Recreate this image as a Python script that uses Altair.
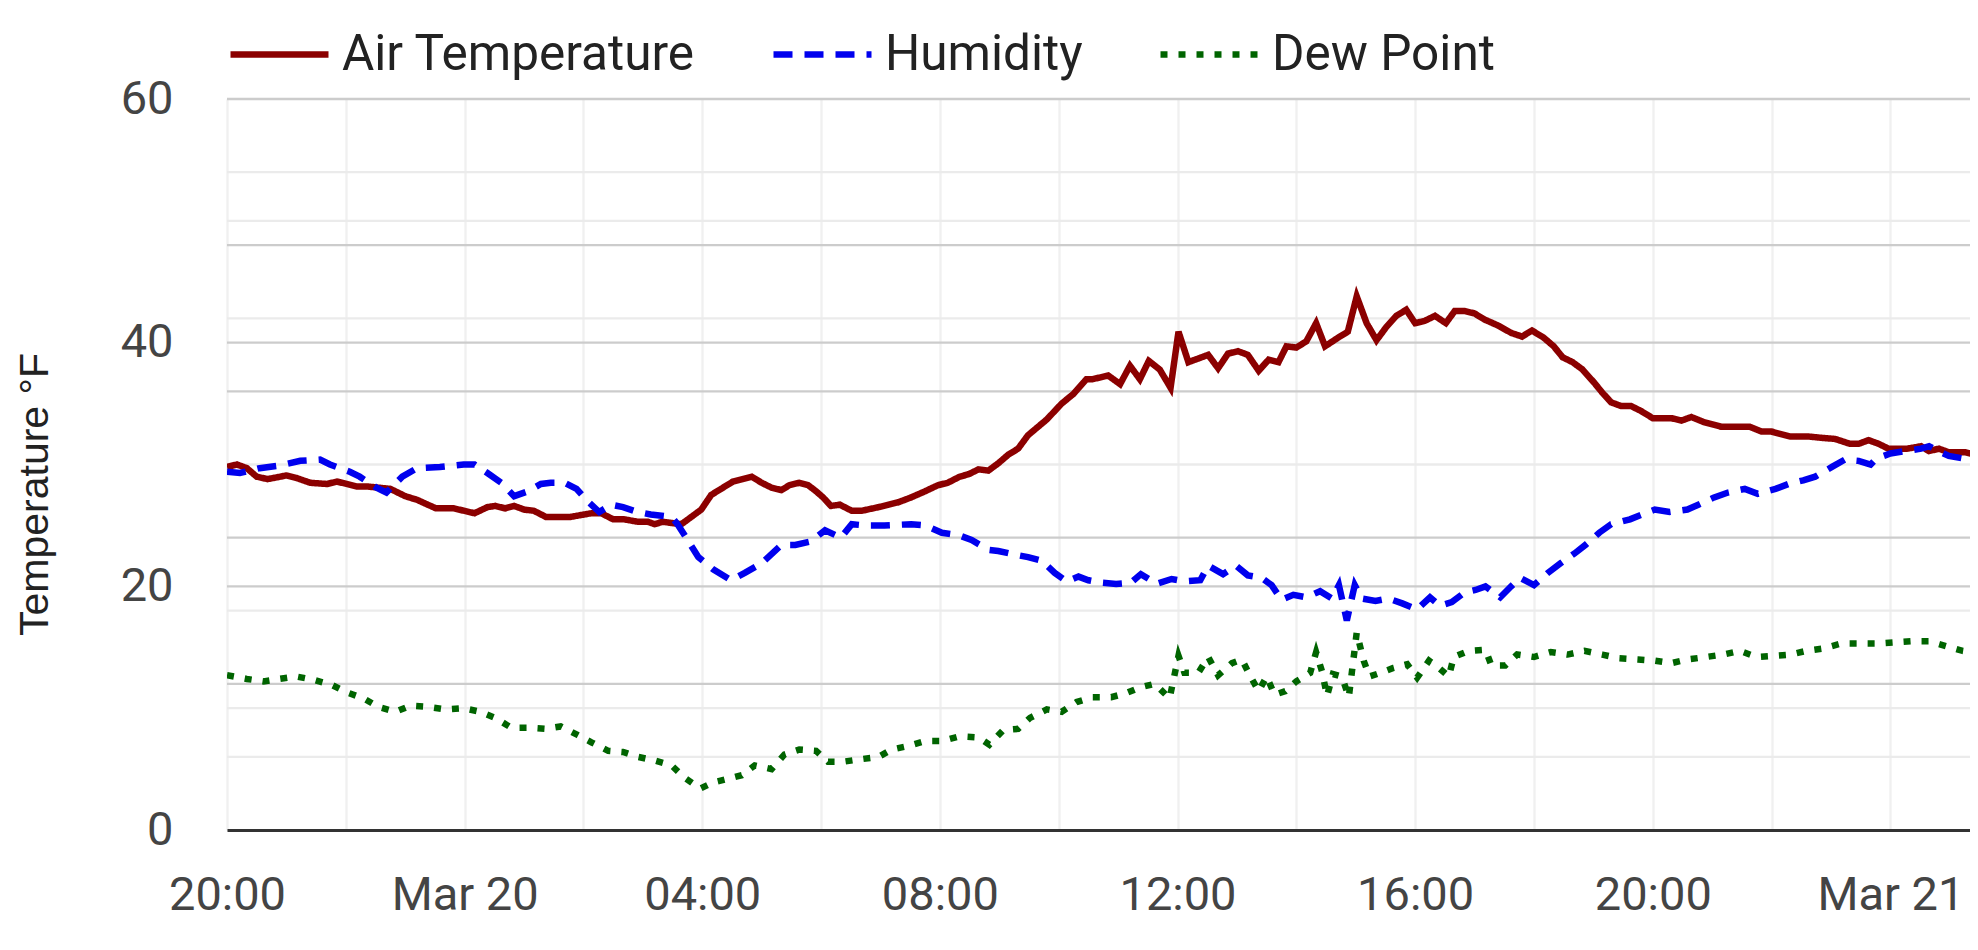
import altair as alt
import pandas as pd

# ---- data (hours after Mar 19 20:00, values in axis units) ----
series_names = ["Air Temperature", "Humidity", "Dew Point"]
series_colors = ["#8b0000", "#0000ee", "#006400"]
series_dashes = [[1, 0], [19, 12], [7, 11]]

temp_hours = [0, 0.16, 0.33, 0.5, 0.69, 1.0, 1.17, 1.4, 1.68, 1.85, 2.19, 2.35, 2.75, 3.0, 3.2, 3.51, 3.82,
              4.16, 4.38, 4.52, 4.69, 4.83, 5.0, 5.17, 5.37, 5.79, 6.13, 6.3, 6.5, 6.69, 6.92, 7.09, 7.2,
              7.34, 7.48, 7.65, 7.81, 7.98, 8.15, 8.32, 8.52, 8.83, 9.0, 9.17, 9.33, 9.47, 9.64, 9.78, 9.92,
              10.03, 10.17, 10.31, 10.51, 10.68, 10.96, 11.3, 11.52, 11.75, 11.97, 12.14, 12.34, 12.48,
              12.65, 12.81, 12.98, 13.15, 13.32, 13.49, 13.8, 14.05, 14.25, 14.47, 14.56, 14.83, 15.03,
              15.2, 15.37, 15.51, 15.7, 15.89, 16.01, 16.18, 16.52, 16.69, 16.85, 17.02, 17.19, 17.36,
              17.53, 17.7, 17.84, 18.0, 18.17, 18.34, 18.49, 18.7, 18.87, 19.01, 19.18, 19.35, 19.52,
              19.69, 19.85, 20.0, 20.17, 20.34, 20.51, 20.67, 20.84, 21.0, 21.17, 21.4, 21.62, 21.8,
              21.97, 22.17, 22.34, 22.48, 22.65, 22.82, 23.01, 23.15, 23.3, 23.46, 23.63, 23.8, 24.0,
              24.31, 24.48, 24.65, 24.85, 25.15, 25.63, 25.83, 26.0, 26.31, 26.62, 26.82, 27.07, 27.32,
              27.46, 27.63, 27.8, 27.97, 28.28, 28.51, 28.65, 28.82, 28.99, 29.27, 29.44, 29.57]
temp_values = [29.8, 30.0, 29.7, 29.0, 28.8, 29.1, 28.9, 28.5, 28.4, 28.6, 28.2, 28.2, 28.0, 27.4, 27.1, 26.4, 26.4,
               26.0, 26.5, 26.6, 26.4, 26.6, 26.3, 26.2, 25.7, 25.7, 26.0, 26.0, 25.5, 25.5, 25.3, 25.3, 25.1,
               25.3, 25.2, 25.1, 25.7, 26.3, 27.5, 28.0, 28.6, 29.0, 28.5, 28.1, 27.9, 28.3, 28.5, 28.3, 27.8,
               27.3, 26.6, 26.7, 26.2, 26.2, 26.5, 26.9, 27.3, 27.8, 28.3, 28.5, 29.0, 29.2,
               29.6, 29.5, 30.1, 30.8, 31.3, 32.4, 33.7, 35.0, 35.8, 37.0, 37.0, 37.3, 36.6,
               38.1, 37.0, 38.5, 37.8, 36.3, 40.9, 38.4, 39.0, 37.9, 39.1, 39.3, 39.0, 37.7,
               38.6, 38.4, 39.7, 39.6, 40.1, 41.6, 39.7, 40.4, 40.9, 43.8, 41.6, 40.2, 41.3,
               42.2, 42.7, 41.6, 41.8, 42.2, 41.6, 42.6, 42.6, 42.4, 41.9, 41.4, 40.8, 40.5,
               41.0, 40.4, 39.7, 38.8, 38.4, 37.8, 36.7, 35.9, 35.1, 34.8, 34.8, 34.4, 33.8,
               33.8, 33.6, 33.9, 33.5, 33.1, 33.1, 32.7, 32.7, 32.3, 32.3, 32.2, 32.1, 31.7,
               31.7, 32.0, 31.7, 31.3, 31.3, 31.5, 31.1, 31.3, 31.0, 31.0, 30.8, 30.8]

hum_hours = [0, 0.21, 0.55, 0.86, 1.23, 1.57, 1.73, 2.07, 2.24, 2.52, 2.69, 2.95, 3.2, 3.59, 3.99, 4.16, 4.38,
             4.61, 4.83, 5.06, 5.28, 5.45, 5.68, 5.88, 6.07, 6.27, 6.47, 6.66, 6.92, 7.14, 7.48, 7.59, 7.76,
             7.93, 8.18, 8.49, 8.71, 9.0, 9.33, 9.56, 9.84, 10.06, 10.34, 10.51, 10.74, 11.07, 11.52, 11.75,
             12.03, 12.31, 12.53, 12.81, 12.98, 13.26, 13.49, 13.71, 13.94, 14.13, 14.33, 14.5, 14.72, 14.97,
             15.22, 15.39, 15.65, 15.9, 16.12, 16.38, 16.52, 16.77, 16.99, 17.19, 17.42, 17.58, 17.75, 17.95,
             18.17, 18.4, 18.6, 18.71, 18.85, 18.99, 19.1, 19.33, 19.55, 19.78, 20.03, 20.25, 20.42, 20.62,
             20.84, 21.01, 21.18, 21.43, 21.62, 21.77, 22.0, 22.23, 22.45, 22.68, 22.87, 23.1, 23.3, 23.61,
             23.77, 24.03, 24.28, 24.59, 24.76, 25.04, 25.27, 25.55, 25.77, 26.06, 26.28, 26.54, 26.73,
             27.01, 27.24, 27.46, 27.66, 27.77, 28.0, 28.25, 28.51, 28.65, 28.76, 28.99, 29.21, 29.38,
             29.52, 29.57]
hum_values = [29.4, 29.3, 29.7, 29.9, 30.3, 30.4, 30.0, 29.4, 29.0, 28.1, 27.7, 29.0, 29.7, 29.8, 30.0, 30.0, 29.3,
              28.5, 27.4, 27.8, 28.4, 28.5, 28.5, 28.0, 27.0, 26.1, 26.7, 26.5, 26.1, 25.9, 25.7, 25.1, 23.7,
              22.4, 21.4, 20.5, 21.1, 21.9, 23.4, 23.4, 23.7, 24.6, 24.0, 25.1, 25.0, 25.0, 25.1, 25.0,
              24.4, 24.2, 23.8, 23.0, 22.9, 22.6, 22.4, 22.1, 21.1, 20.4, 20.8, 20.5, 20.3, 20.2,
              20.3, 21.0, 20.2, 20.6, 20.4, 20.5, 21.7, 21.0, 21.7, 20.9, 20.7, 20.1, 18.9, 19.3,
              19.1, 19.6, 19.0, 20.1, 17.2, 20.1, 19.0, 18.8, 19.0, 18.6, 18.1, 19.1, 18.4, 18.7,
              19.5, 19.7, 20.0, 19.1, 20.0, 20.7, 20.1, 21.1, 21.9, 22.7, 23.4, 24.4, 25.1, 25.5,
              25.8, 26.3, 26.1, 26.3, 26.7, 27.3, 27.7, 28.0, 27.6, 28.0, 28.4, 28.7, 29.0,
              29.8, 30.4, 30.3, 30.0, 30.5, 30.9, 31.1, 31.3, 31.5, 31.2, 30.7, 30.5, 30.5,
              30.0, 29.7]

dew_hours = [0, 0.33, 0.61, 0.89, 1.17, 1.48, 1.76, 2.02, 2.3, 2.55, 2.83, 3.08, 3.4, 3.68, 3.99, 4.27, 4.52,
             4.78, 5.06, 5.37, 5.62, 5.9, 6.13, 6.41, 6.66, 6.92, 7.2, 7.48, 7.7, 7.96, 8.18, 8.43, 8.66,
             8.88, 9.16, 9.39, 9.64, 9.92, 10.12, 10.37, 10.65, 10.96, 11.19, 11.47, 11.75, 12.03, 12.34,
             12.65, 12.84, 13.07, 13.32, 13.52, 13.8, 14.05, 14.3, 14.56, 14.89, 15.11, 15.37, 15.62, 15.87,
             16.01, 16.12, 16.35, 16.52, 16.69, 16.92, 17.08, 17.22, 17.36, 17.5, 17.64, 17.81, 18.0, 18.23,
             18.34, 18.43, 18.51, 18.62, 18.76, 18.88, 19.01, 19.13, 19.24, 19.41, 19.64, 19.87, 20.03,
             20.23, 20.4, 20.57, 20.65, 20.9, 21.18, 21.29, 21.52, 21.72, 22.0, 22.28, 22.56, 22.85, 23.15,
             23.44, 23.75, 24.03, 24.31, 24.59, 24.9, 25.18, 25.46, 25.75, 26.03, 26.31, 26.59, 26.87,
             27.16, 27.46, 27.77, 28.06, 28.37, 28.65, 28.93, 29.21, 29.49, 29.57]
dew_values = [12.7, 12.4, 12.2, 12.4, 12.6, 12.3, 11.9, 11.3, 10.8, 10.1, 9.7, 10.2, 10.1, 9.9, 10.0, 9.7, 9.2,
              8.4, 8.4, 8.3, 8.5, 7.8, 7.2, 6.5, 6.4, 6.0, 5.7, 5.3, 4.3, 3.4, 3.9, 4.2, 4.5,
              5.3, 5.0, 6.2, 6.6, 6.5, 5.6, 5.6, 5.8, 6.0, 6.6, 6.9, 7.3, 7.3, 7.7,
              7.6, 7.0, 8.2, 8.3, 9.2, 9.9, 9.7, 10.5, 10.9, 10.9, 11.2, 11.7, 12.0, 10.8,
              14.3, 12.9, 12.9, 14.2, 12.7, 13.7, 14.0, 12.7, 11.4, 12.6, 11.1, 11.4, 12.2, 12.9,
              14.6, 13.0, 11.0, 12.8, 12.6, 10.9, 16.2, 13.9, 12.6, 12.9, 13.3, 13.6, 12.5,
              13.9, 13.3, 12.6, 14.2, 14.7, 14.8, 13.5, 13.5, 14.4, 14.2, 14.6, 14.4, 14.7, 14.4,
              14.1, 14.0, 13.9, 13.7, 14.0, 14.2, 14.4, 14.7, 14.2, 14.3, 14.4, 14.7, 14.9,
              15.3, 15.3, 15.3, 15.4, 15.5, 15.5, 15.1, 14.7, 14.5, 14.5]

y_tick_values = [0, 20, 40, 60]
grid_dark = [12, 20, 24, 36, 40, 48, 60]
grid_light = [6, 10, 18, 30, 42, 50, 54]
x_grid_hours = [0, 2, 4, 6, 8, 10, 12, 14, 16, 18, 20, 22, 24, 26, 28]

# ---- build tables ----
base = pd.Timestamp("2024-03-19 20:00:00")


def stamp(h):
    return (base + pd.Timedelta(minutes=round(h * 60))).strftime("%Y-%m-%dT%H:%M:%SZ")


rows = []
for name, hrs, vals in [(series_names[0], temp_hours, temp_values),
                        (series_names[1], hum_hours, hum_values),
                        (series_names[2], dew_hours, dew_values)]:
    for h, v in zip(hrs, vals):
        rows.append({"time": stamp(h), "value": v, "series": name})
df = pd.DataFrame(rows)


def dt(h):
    t = base + pd.Timedelta(hours=h)
    return alt.DateTime(year=t.year, month=t.month, date=t.day, hours=t.hour,
                        minutes=t.minute, seconds=t.second, utc=True)


x_axis_values = [dt(h) for h in x_grid_hours]
x_domain = [dt(0), dt(29.34)]

FONT = "Roboto"

x_enc = alt.X(
    "time:T",
    scale=alt.Scale(type="utc", domain=x_domain),
    axis=alt.Axis(
        values=x_axis_values,
        labelExpr="utchours(datum.value) % 4 != 0 ? '' : (utchours(datum.value) == 0 ? utcFormat(datum.value, '%b %d') : utcFormat(datum.value, '%H:%M'))",
        labelFont=FONT, labelFontSize=47, labelColor="#444444",
        labelPadding=42, labelFlush=False, labelOverlap=False,
        ticks=False, domain=True, domainColor="#333333", domainWidth=3,
        grid=True, gridColor="#f0f0f0", gridWidth=2.3, title=None,
    ),
)

y_axis = alt.Axis(
    values=y_tick_values, grid=False, ticks=False, domain=False,
    labelFont=FONT, labelFontSize=47, labelColor="#444444", labelPadding=54,
    title="Temperature °F", titleFont="Liberation Sans", titleFontSize=41,
    titleFontWeight="normal", titleColor="#222222", titlePadding=64, titleY=395,
)
y_scale = alt.Scale(domain=[0, 60], nice=False, zero=True)

legend = alt.Legend(
    title=None, orient="none", legendX=0, legendY=-97, direction="horizontal",
    symbolType="stroke", symbolSize=9604, symbolStrokeWidth=6.5,
    labelFont=FONT, labelFontSize=49.5, labelColor="#222222", labelOffset=10,
    labelLimit=1000, columnPadding=64, padding=0,
)

light_rules = alt.Chart(pd.DataFrame({"value": grid_light})).mark_rule(
    color="#ebebeb", strokeWidth=2.3
).encode(y=alt.Y("value:Q", scale=y_scale, axis=y_axis))

dark_rules = alt.Chart(pd.DataFrame({"value": grid_dark})).mark_rule(
    color="#cccccc", strokeWidth=2.3
).encode(y=alt.Y("value:Q", scale=y_scale, axis=y_axis))

lines = alt.Chart(df).mark_line(strokeWidth=6.5, strokeCap="butt", clip=True).encode(
    x=x_enc,
    y=alt.Y("value:Q", scale=y_scale, axis=y_axis),
    color=alt.Color("series:N", scale=alt.Scale(domain=series_names, range=series_colors),
                    sort=series_names, legend=legend),
    strokeDash=alt.StrokeDash("series:N", scale=alt.Scale(domain=series_names, range=series_dashes),
                              sort=series_names, legend=legend),
)

chart = alt.layer(light_rules, dark_rules, lines).properties(
    width=1743, height=731,
    autosize=alt.AutoSizeParams(type="none"),
    padding={"left": 219, "top": 91, "right": 0, "bottom": 111},
).configure_view(stroke=None).configure(background="white")

chart.save("out.html", embed_options={"renderer": "svg", "actions": False})
